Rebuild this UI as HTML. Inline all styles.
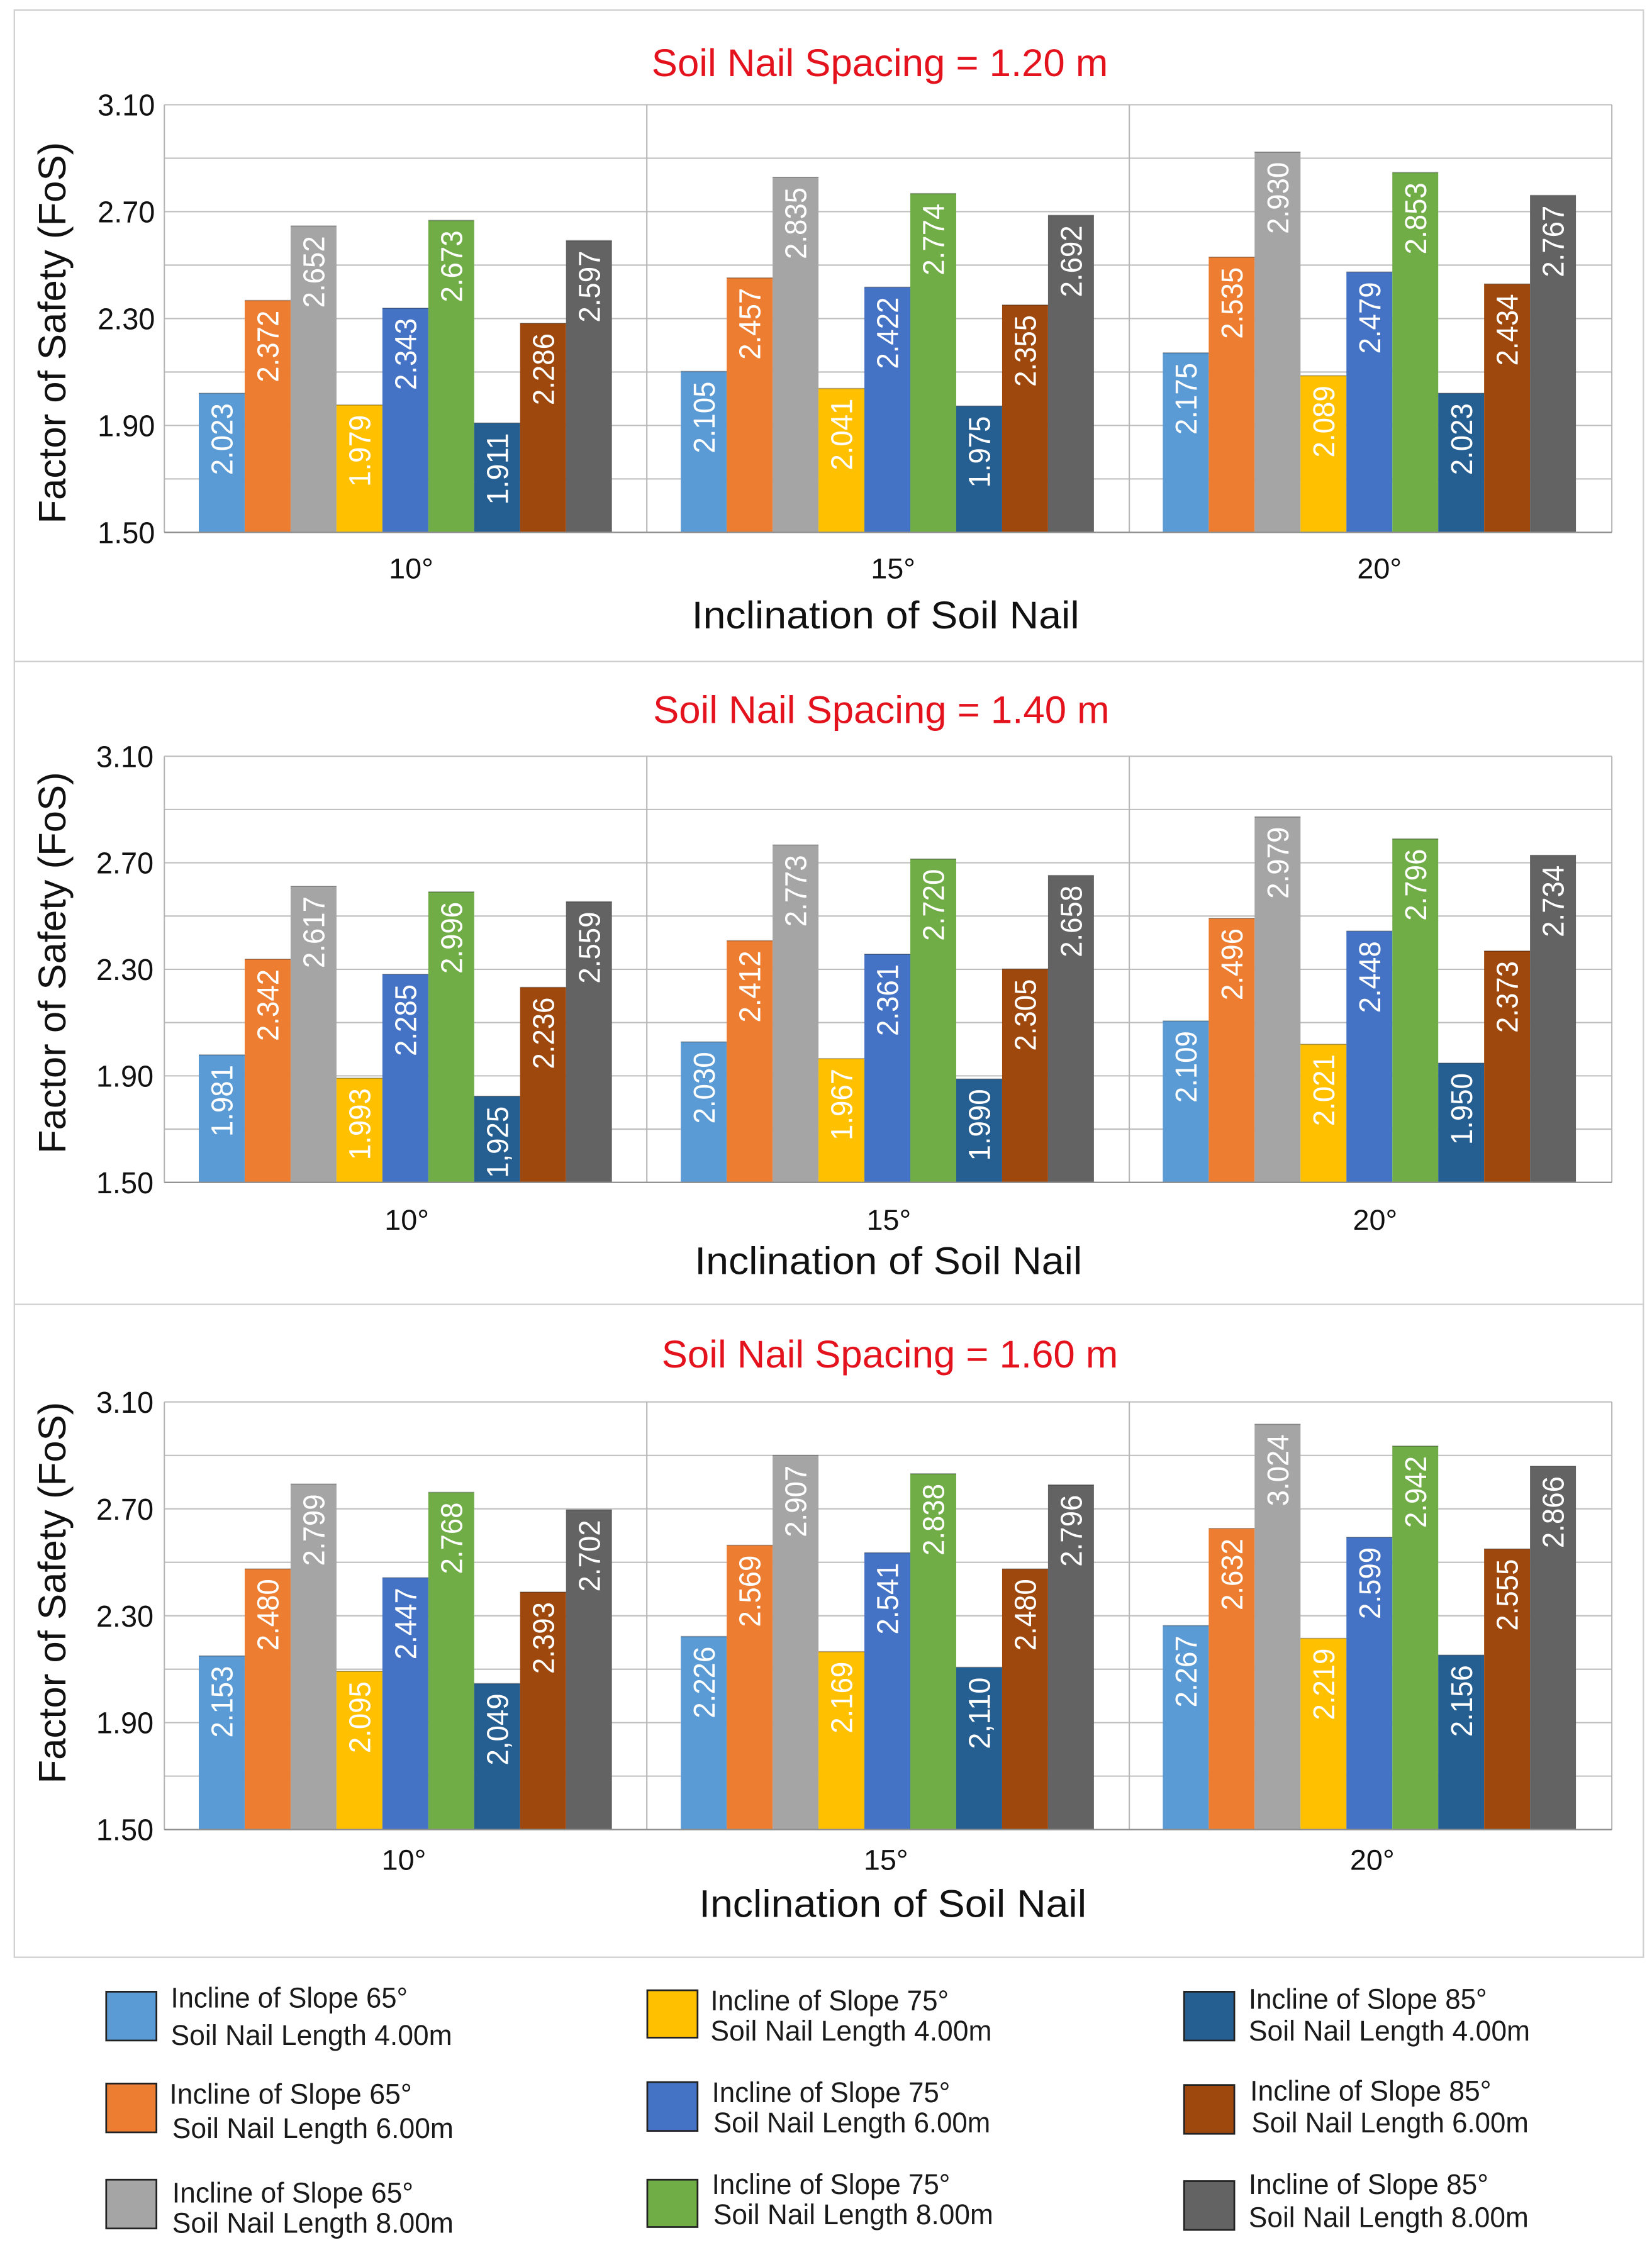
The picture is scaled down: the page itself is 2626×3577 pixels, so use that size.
<!DOCTYPE html>
<html lang="en">
<head>
<meta charset="utf-8">
<title>Factor of Safety vs Inclination of Soil Nail</title>
<style>
html,body{margin:0;padding:0;background:#fff;width:2626px;height:3577px;overflow:hidden}
svg{display:block}
text{font-family:"Liberation Sans",sans-serif;fill:#111}
.title{font-size:27px;fill:#e3121d}
.axis-title{font-size:27px;fill:#111}
.legend-text{font-size:20px;fill:#1a1a1a}
</style>
</head>
<body>
<svg id="figure" xmlns="http://www.w3.org/2000/svg" width="2626" height="3577" viewBox="0 0 1151 1568" preserveAspectRatio="none">
  <rect x="0" y="0" width="1151" height="1568" fill="#ffffff"/>
  <g fill="none" stroke="#cfcfcf" stroke-width="1">
    <rect x="10" y="7" width="1135" height="1357"/>
    <line x1="10" y1="461" x2="1145" y2="461"/>
    <line x1="10" y1="909" x2="1145" y2="909"/>
  </g>

  <g id="chart-1"></g>
  <g id="chart-2"></g>
  <g id="chart-3"></g>

  <text class="title" x="454" y="53" textLength="318" lengthAdjust="spacingAndGlyphs">Soil Nail Spacing = 1.20 m</text>
  <text class="title" x="455" y="504" textLength="318" lengthAdjust="spacingAndGlyphs">Soil Nail Spacing = 1.40 m</text>
  <text class="title" x="461" y="953" textLength="318" lengthAdjust="spacingAndGlyphs">Soil Nail Spacing = 1.60 m</text>

  <text class="axis-title" x="482" y="438" textLength="270" lengthAdjust="spacingAndGlyphs">Inclination of Soil Nail</text>
  <text class="axis-title" x="484" y="888" textLength="270" lengthAdjust="spacingAndGlyphs">Inclination of Soil Nail</text>
  <text class="axis-title" x="487" y="1336" textLength="270" lengthAdjust="spacingAndGlyphs">Inclination of Soil Nail</text>

  <text class="axis-title" transform="translate(45.5 365) rotate(-90)" textLength="266" lengthAdjust="spacingAndGlyphs">Factor of Safety (FoS)</text>
  <text class="axis-title" transform="translate(45.5 804) rotate(-90)" textLength="266" lengthAdjust="spacingAndGlyphs">Factor of Safety (FoS)</text>
  <text class="axis-title" transform="translate(45.5 1243) rotate(-90)" textLength="266" lengthAdjust="spacingAndGlyphs">Factor of Safety (FoS)</text>

  <g id="legend" stroke-linejoin="miter">
    <g>
      <rect x="74" y="1388" width="35" height="34" fill="#5b9bd5" stroke="#222" stroke-width="1.2"/>
      <text class="legend-text" x="119" y="1399" textLength="165" lengthAdjust="spacingAndGlyphs">Incline of Slope 65°</text>
      <text class="legend-text" x="119" y="1425" textLength="196" lengthAdjust="spacingAndGlyphs">Soil Nail Length 4.00m</text>
    </g>
    <g>
      <rect x="74" y="1452" width="35" height="34" fill="#ed7d31" stroke="#222" stroke-width="1.2"/>
      <text class="legend-text" x="118" y="1466" textLength="169" lengthAdjust="spacingAndGlyphs">Incline of Slope 65°</text>
      <text class="legend-text" x="120" y="1490" textLength="196" lengthAdjust="spacingAndGlyphs">Soil Nail Length 6.00m</text>
    </g>
    <g>
      <rect x="74" y="1519" width="35" height="34" fill="#a5a5a5" stroke="#222" stroke-width="1.2"/>
      <text class="legend-text" x="120" y="1535" textLength="168" lengthAdjust="spacingAndGlyphs">Incline of Slope 65°</text>
      <text class="legend-text" x="120" y="1556" textLength="196" lengthAdjust="spacingAndGlyphs">Soil Nail Length 8.00m</text>
    </g>
    <g>
      <rect x="451" y="1387" width="35" height="33" fill="#ffc000" stroke="#222" stroke-width="1.2"/>
      <text class="legend-text" x="495" y="1401" textLength="166" lengthAdjust="spacingAndGlyphs">Incline of Slope 75°</text>
      <text class="legend-text" x="495" y="1422" textLength="196" lengthAdjust="spacingAndGlyphs">Soil Nail Length 4.00m</text>
    </g>
    <g>
      <rect x="451" y="1451" width="35" height="34" fill="#4472c4" stroke="#222" stroke-width="1.2"/>
      <text class="legend-text" x="496" y="1465" textLength="166" lengthAdjust="spacingAndGlyphs">Incline of Slope 75°</text>
      <text class="legend-text" x="497" y="1486" textLength="193" lengthAdjust="spacingAndGlyphs">Soil Nail Length 6.00m</text>
    </g>
    <g>
      <rect x="451" y="1519" width="35" height="33" fill="#70ad47" stroke="#222" stroke-width="1.2"/>
      <text class="legend-text" x="496" y="1529" textLength="166" lengthAdjust="spacingAndGlyphs">Incline of Slope 75°</text>
      <text class="legend-text" x="497" y="1550" textLength="195" lengthAdjust="spacingAndGlyphs">Soil Nail Length 8.00m</text>
    </g>
    <g>
      <rect x="825" y="1388" width="35" height="34" fill="#255e91" stroke="#222" stroke-width="1.2"/>
      <text class="legend-text" x="870" y="1400" textLength="166" lengthAdjust="spacingAndGlyphs">Incline of Slope 85°</text>
      <text class="legend-text" x="870" y="1422" textLength="196" lengthAdjust="spacingAndGlyphs">Soil Nail Length 4.00m</text>
    </g>
    <g>
      <rect x="825" y="1453" width="35" height="34" fill="#9e480e" stroke="#222" stroke-width="1.2"/>
      <text class="legend-text" x="871" y="1464" textLength="168" lengthAdjust="spacingAndGlyphs">Incline of Slope 85°</text>
      <text class="legend-text" x="872" y="1486" textLength="193" lengthAdjust="spacingAndGlyphs">Soil Nail Length 6.00m</text>
    </g>
    <g>
      <rect x="825" y="1520" width="35" height="34" fill="#636363" stroke="#222" stroke-width="1.2"/>
      <text class="legend-text" x="870" y="1529" textLength="167" lengthAdjust="spacingAndGlyphs">Incline of Slope 85°</text>
      <text class="legend-text" x="870" y="1552" textLength="195" lengthAdjust="spacingAndGlyphs">Soil Nail Length 8.00m</text>
    </g>
  </g>
</svg>

<script>
// ---- chart data ----
const categories = ['10°', '15°', '20°'];
const tickValues = [1.5, 1.9, 2.3, 2.7, 3.1];
const tickLabels = ['1.50', '1.90', '2.30', '2.70', '3.10'];
const gridValues = [1.5, 1.7, 1.9, 2.1, 2.3, 2.5, 2.7, 2.9, 3.1];
const seriesColors = ['#5b9bd5', '#ed7d31', '#a5a5a5', '#ffc000', '#4472c4', '#70ad47', '#255e91', '#9e480e', '#636363'];

// Bar heights (as drawn) and printed labels (as printed; some printed labels differ from the drawn height in the source figure)
const values120 = [
  [2.023, 2.372, 2.652, 1.979, 2.343, 2.673, 1.911, 2.286, 2.597],
  [2.105, 2.457, 2.835, 2.041, 2.422, 2.774, 1.975, 2.355, 2.692],
  [2.175, 2.535, 2.930, 2.089, 2.479, 2.853, 2.023, 2.434, 2.767]
];
const labels120 = [
  ['2.023', '2.372', '2.652', '1.979', '2.343', '2.673', '1.911', '2.286', '2.597'],
  ['2.105', '2.457', '2.835', '2.041', '2.422', '2.774', '1.975', '2.355', '2.692'],
  ['2.175', '2.535', '2.930', '2.089', '2.479', '2.853', '2.023', '2.434', '2.767']
];
const values140 = [
  [1.981, 2.342, 2.617, 1.893, 2.285, 2.596, 1.825, 2.236, 2.559],
  [2.030, 2.412, 2.773, 1.967, 2.361, 2.720, 1.890, 2.305, 2.658],
  [2.109, 2.496, 2.879, 2.021, 2.448, 2.796, 1.950, 2.373, 2.734]
];
const labels140 = [
  ['1.981', '2.342', '2.617', '1.993', '2.285', '2.996', '1,925', '2.236', '2.559'],
  ['2.030', '2.412', '2.773', '1.967', '2.361', '2.720', '1.990', '2.305', '2.658'],
  ['2.109', '2.496', '2.979', '2.021', '2.448', '2.796', '1.950', '2.373', '2.734']
];
const values160 = [
  [2.153, 2.480, 2.799, 2.095, 2.447, 2.768, 2.049, 2.393, 2.702],
  [2.226, 2.569, 2.907, 2.169, 2.541, 2.838, 2.110, 2.480, 2.796],
  [2.267, 2.632, 3.024, 2.219, 2.599, 2.942, 2.156, 2.555, 2.866]
];
const labels160 = [
  ['2.153', '2.480', '2.799', '2.095', '2.447', '2.768', '2,049', '2.393', '2.702'],
  ['2.226', '2.569', '2.907', '2.169', '2.541', '2.838', '2,110', '2.480', '2.796'],
  ['2.267', '2.632', '3.024', '2.219', '2.599', '2.942', '2.156', '2.555', '2.866']
];

// ---- layout ----
const SVG_NS = 'http://www.w3.org/2000/svg';
const plotLeft = 114.5;
const plotRight = 1123;
const barPlotRight = 1122;
const yMin = 1.5;
const yMax = 3.1;
const barYMax = 3.108;
const bandPadding = 24;
const panels = [
  { id: 'chart-1', key: '1-20', top: 73, bottom: 371, values: values120, labels: labels120, tickRight: 108, catShift: 4, catBaseline: 403 },
  { id: 'chart-2', key: '1-40', top: 527, bottom: 824, values: values140, labels: labels140, tickRight: 107, catShift: 1, catBaseline: 857 },
  { id: 'chart-3', key: '1-60', top: 977, bottom: 1275, values: values160, labels: labels160, tickRight: 107, catShift: -1, catBaseline: 1303 }
];

function xBand(categoryIndex) {
  return plotLeft + (plotRight - plotLeft) * categoryIndex / categories.length;
}
function xBarBand(categoryIndex) {
  return plotLeft + (barPlotRight - plotLeft) * categoryIndex / categories.length;
}
function xBar(categoryIndex, seriesIndex) {
  const bandWidth = (barPlotRight - plotLeft) / categories.length;
  const inner = bandWidth - 2 * bandPadding;
  return xBarBand(categoryIndex) + bandPadding + inner * seriesIndex / seriesColors.length;
}
function barWidth() {
  const bandWidth = (barPlotRight - plotLeft) / categories.length;
  return (bandWidth - 2 * bandPadding) / seriesColors.length;
}
function yScale(panel, value) {
  return panel.bottom - (value - yMin) / (yMax - yMin) * (panel.bottom - panel.top);
}
function yBar(panel, value) {
  return panel.bottom - (value - yMin) / (barYMax - yMin) * (panel.bottom - panel.top);
}
function makeNode(tag, parent) {
  const node = document.createElementNS(SVG_NS, tag);
  parent.appendChild(node);
  return node;
}
function setAttrs(node, attrs) {
  Object.keys(attrs).forEach(function (k) { node.setAttribute(k, attrs[k]); });
}

panels.forEach(function (panel) {
  const root = document.getElementById(panel.id);

  gridValues.forEach(function (gridValue) {
    const gridLine = makeNode('line', root);
    
    
    setAttrs(gridLine, { x1: plotLeft, x2: plotRight, y1: yScale(panel, gridValue), y2: yScale(panel, gridValue), stroke: '#bdbdbd', 'stroke-width': 0.9 });
  });

  [0, 1, 2, 3].forEach(function (boundary) {
    const divider = makeNode('line', root);
    
    
    setAttrs(divider, { x1: xBand(boundary), x2: xBand(boundary), y1: panel.top, y2: panel.bottom, stroke: '#b5b5b5', 'stroke-width': 0.9 });
  });

  tickValues.forEach(function (tickValue, tickIndex) {
    const tick = makeNode('text', root);
    
    
    setAttrs(tick, { x: panel.tickRight, y: yScale(panel, tickValue) + 7.5, 'text-anchor': 'end', 'font-size': 21, textLength: 40, lengthAdjust: 'spacingAndGlyphs' });
    tick.textContent = tickLabels[tickIndex];
  });

  categories.forEach(function (category, categoryIndex) {
    panel.values[categoryIndex].forEach(function (value, seriesIndex) {
      const barTop = yBar(panel, value);
      const bar = makeNode('rect', root);
      
      
      setAttrs(bar, { x: xBar(categoryIndex, seriesIndex), y: barTop, width: barWidth(), height: panel.bottom - barTop, fill: seriesColors[seriesIndex] });

      const topEdge = makeNode('line', root);
      
      
      setAttrs(topEdge, { x1: xBar(categoryIndex, seriesIndex), x2: xBar(categoryIndex, seriesIndex) + barWidth(), y1: barTop, y2: barTop, stroke: '#000', 'stroke-opacity': 0.3, 'stroke-width': 0.8 });

      const label = makeNode('text', root);
      
      
      const labelX = xBar(categoryIndex, seriesIndex) + barWidth() / 2 + 7.5;
      const labelY = barTop + 7 + 50;
      setAttrs(label, { transform: 'translate(' + labelX + ' ' + labelY + ') rotate(-90)', 'font-size': 21, textLength: 50, lengthAdjust: 'spacingAndGlyphs' });
      label.style.fill = '#ffffff';
      label.textContent = panel.labels[categoryIndex][seriesIndex];
    });

    const catLabel = makeNode('text', root);
    
    
    const catCenter = xBarBand(categoryIndex) + (barPlotRight - plotLeft) / categories.length / 2 + panel.catShift + (categoryIndex === 2 ? 3 : 0);
    setAttrs(catLabel, { x: catCenter, y: panel.catBaseline, 'text-anchor': 'middle', 'font-size': 20, textLength: 31, lengthAdjust: 'spacingAndGlyphs' });
    catLabel.textContent = category;
  });

  const baseline = makeNode('line', root);
  
  
  setAttrs(baseline, { x1: plotLeft, x2: plotRight, y1: panel.bottom, y2: panel.bottom, stroke: '#8f8f8f', 'stroke-width': 1 });
});
</script>
</body>
</html>
